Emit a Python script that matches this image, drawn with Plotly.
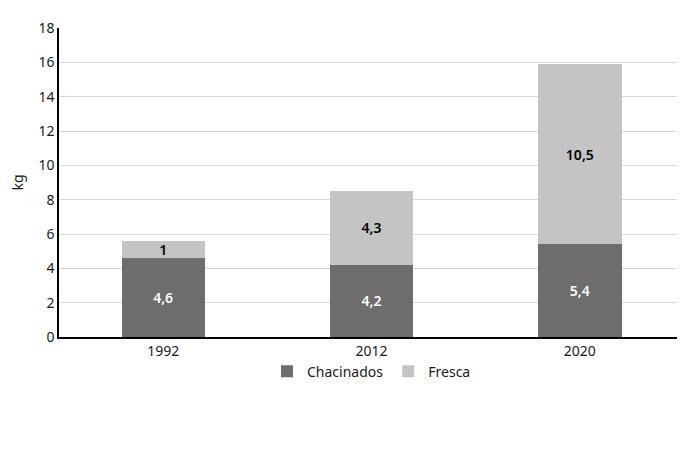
import plotly.graph_objects as go

years = ["1992", "2012", "2020"]
chacinados = [4.6, 4.2, 5.4]
fresca = [1, 4.3, 10.5]
y_ticks = [0, 2, 4, 6, 8, 10, 12, 14, 16, 18]

FONT = "Noto Sans"
DARK = "#6e6c6c"
LIGHT = "#c4c4c4"

fig = go.Figure()
fig.add_trace(go.Bar(
    name="Chacinados", x=years, y=chacinados, marker_color=DARK,
    marker_line_width=0,
    texttemplate="%{y}", textposition="inside", insidetextanchor="middle",
    textangle=0, textfont=dict(color="white", size=14, family=FONT, weight=600),
))
fig.add_trace(go.Bar(
    name="Fresca", x=years, y=fresca, marker_color=LIGHT,
    marker_line_width=0,
    texttemplate="%{y}", textposition="inside", insidetextanchor="middle",
    textangle=0, textfont=dict(color="black", size=14, family=FONT, weight=600),
))

fig.update_layout(
    barmode="stack",
    bargap=0.6,
    width=685, height=464,
    separators=",.",
    paper_bgcolor="white", plot_bgcolor="white",
    font=dict(family=FONT, size=13, color="#1a1a1a"),
    margin=dict(l=48, r=9, t=20, b=135),
    uniformtext=dict(minsize=14, mode="show"),
    showlegend=True,
    legend=dict(orientation="h", x=0.5, xanchor="center", y=-0.06, yanchor="top",
                font=dict(size=14, family=FONT), traceorder="normal"),
    xaxis=dict(showline=True, linecolor="black", linewidth=1.5, ticks="",
               tickfont=dict(size=14)),
    yaxis=dict(range=[0, 18], tickvals=y_ticks, showgrid=True, gridcolor="#d9d9d9",
               gridwidth=1, showline=True, linecolor="black", linewidth=1.5,
               zeroline=False, ticks="", tickfont=dict(size=14),
               title=dict(text="kg", font=dict(size=14), standoff=12)),
)

fig.write_html("out.html")
